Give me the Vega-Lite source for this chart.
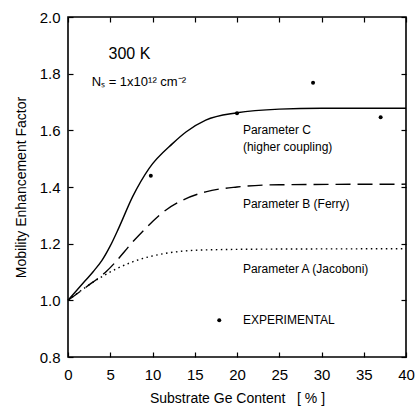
{
  "$schema": "https://vega.github.io/schema/vega-lite/v6.json",
  "width": 338,
  "height": 340,
  "autosize": {"type": "none"},
  "padding": {"left": 68, "top": 17, "right": 10, "bottom": 54},
  "background": "white",
  "config": {
    "font": "Liberation Sans",
    "view": {"stroke": "black", "strokeWidth": 1.6},
    "axis": {"grid": false, "domain": false, "ticks": true, "tickSize": -5, "tickColor": "black", "tickWidth": 1.2, "labelColor": "black", "titleColor": "black", "titleFontWeight": "normal", "labelFlush": false, "labelOverlap": false}
  },
  "datasets": {
    "curves": [
      {"series": "C", "x": 0, "y": 1.0},
      {"series": "C", "x": 2, "y": 1.068},
      {"series": "C", "x": 3, "y": 1.102},
      {"series": "C", "x": 4, "y": 1.14},
      {"series": "C", "x": 5, "y": 1.192},
      {"series": "C", "x": 6, "y": 1.255},
      {"series": "C", "x": 7.65, "y": 1.366},
      {"series": "C", "x": 9.6, "y": 1.466},
      {"series": "C", "x": 12.4, "y": 1.554},
      {"series": "C", "x": 14, "y": 1.595},
      {"series": "C", "x": 16.3, "y": 1.636},
      {"series": "C", "x": 20, "y": 1.662},
      {"series": "C", "x": 25, "y": 1.675},
      {"series": "C", "x": 30, "y": 1.678},
      {"series": "C", "x": 40, "y": 1.678},
      {"series": "B", "x": 0, "y": 1.0},
      {"series": "B", "x": 2.2, "y": 1.048},
      {"series": "B", "x": 4.5, "y": 1.101},
      {"series": "B", "x": 8.4, "y": 1.23},
      {"series": "B", "x": 11.6, "y": 1.319},
      {"series": "B", "x": 13.6, "y": 1.354},
      {"series": "B", "x": 16.3, "y": 1.383},
      {"series": "B", "x": 20, "y": 1.4},
      {"series": "B", "x": 25, "y": 1.408},
      {"series": "B", "x": 40, "y": 1.41},
      {"series": "A", "x": 0, "y": 1.0},
      {"series": "A", "x": 3.7, "y": 1.078},
      {"series": "A", "x": 7.65, "y": 1.136},
      {"series": "A", "x": 11.6, "y": 1.166},
      {"series": "A", "x": 16.3, "y": 1.178},
      {"series": "A", "x": 25, "y": 1.181},
      {"series": "A", "x": 40, "y": 1.182}
    ],
    "exp": [
      {"x": 9.8, "y": 1.44},
      {"x": 20, "y": 1.66},
      {"x": 29, "y": 1.768},
      {"x": 37, "y": 1.646},
      {"x": 17.9, "y": 0.93}
    ],
    "labels": [
      {"x": 20.7, "y": 1.6, "text": "Parameter C"},
      {"x": 20.7, "y": 1.54, "text": "(higher coupling)"},
      {"x": 20.7, "y": 1.34, "text": "Parameter B (Ferry)"},
      {"x": 20.7, "y": 1.11, "text": "Parameter A (Jacoboni)"},
      {"x": 20.7, "y": 0.93, "text": "EXPERIMENTAL"}
    ],
    "title1": [{"x": 4.8, "y": 1.87, "text": "300 K"}],
    "title2": [{"x": 2.8, "y": 1.77, "text": "Nₛ = 1x10¹² cm⁻²"}]
  },
  "layer": [
    {
      "data": {"name": "curves"},
      "transform": [{"filter": "datum.series === 'C'"}],
      "mark": {"type": "line", "color": "black", "strokeWidth": 1.4, "interpolate": "monotone"},
      "encoding": {
        "x": {"field": "x", "type": "quantitative", "scale": {"domain": [0, 40], "nice": false}, "axis": {"orient": "bottom", "tickCount": 8, "title": "Substrate Ge Content\u00a0\u00a0\u00a0[ % ]", "labelFontSize": 15, "titleFontSize": 14, "labelPadding": 15, "titlePadding": 9}},
        "y": {"field": "y", "type": "quantitative", "scale": {"domain": [0.8, 2.0], "nice": false, "zero": false}, "axis": {"orient": "left", "tickCount": 6, "format": ".1f", "title": "Mobility Enhancement Factor", "labelFontSize": 15, "titleFontSize": 14, "labelPadding": 13, "titlePadding": 11}}
      }
    },
    {
      "data": {"name": "curves"},
      "transform": [{"filter": "datum.series === 'B'"}],
      "mark": {"type": "line", "color": "black", "strokeWidth": 1.4, "interpolate": "monotone", "strokeDash": [15, 7]},
      "encoding": {
        "x": {"field": "x", "type": "quantitative", "axis": null},
        "y": {"field": "y", "type": "quantitative", "axis": null}
      }
    },
    {
      "data": {"name": "curves"},
      "transform": [{"filter": "datum.series === 'A'"}],
      "mark": {"type": "line", "color": "black", "strokeWidth": 1.4, "interpolate": "monotone", "strokeDash": [1.5, 3.5]},
      "encoding": {
        "x": {"field": "x", "type": "quantitative", "axis": null},
        "y": {"field": "y", "type": "quantitative", "axis": null}
      }
    },
    {
      "data": {"name": "exp"},
      "mark": {"type": "point", "filled": true, "color": "black", "size": 16, "opacity": 1},
      "encoding": {
        "x": {"field": "x", "type": "quantitative", "axis": null},
        "y": {"field": "y", "type": "quantitative", "axis": null}
      }
    },
    {
      "data": {"name": "labels"},
      "mark": {"type": "text", "align": "left", "baseline": "middle", "fontSize": 12, "color": "black"},
      "encoding": {
        "x": {"field": "x", "type": "quantitative", "axis": null},
        "y": {"field": "y", "type": "quantitative", "axis": null},
        "text": {"field": "text"}
      }
    },
    {
      "data": {"name": "title1"},
      "mark": {"type": "text", "align": "left", "baseline": "middle", "fontSize": 16, "color": "black"},
      "encoding": {
        "x": {"field": "x", "type": "quantitative", "axis": null},
        "y": {"field": "y", "type": "quantitative", "axis": null},
        "text": {"field": "text"}
      }
    },
    {
      "data": {"name": "title2"},
      "mark": {"type": "text", "align": "left", "baseline": "middle", "fontSize": 13, "color": "black"},
      "encoding": {
        "x": {"field": "x", "type": "quantitative", "axis": null},
        "y": {"field": "y", "type": "quantitative", "axis": null},
        "text": {"field": "text"}
      }
    },
    {
      "data": {"name": "exp"},
      "mark": {"type": "point", "opacity": 0},
      "encoding": {
        "x": {"field": "x", "type": "quantitative", "axis": {"orient": "top", "tickCount": 8, "labels": false, "title": null}},
        "y": {"field": "y", "type": "quantitative", "axis": {"orient": "right", "tickCount": 6, "labels": false, "title": null}}
      }
    }
  ],
  "resolve": {"axis": {"x": "independent", "y": "independent"}}
}
